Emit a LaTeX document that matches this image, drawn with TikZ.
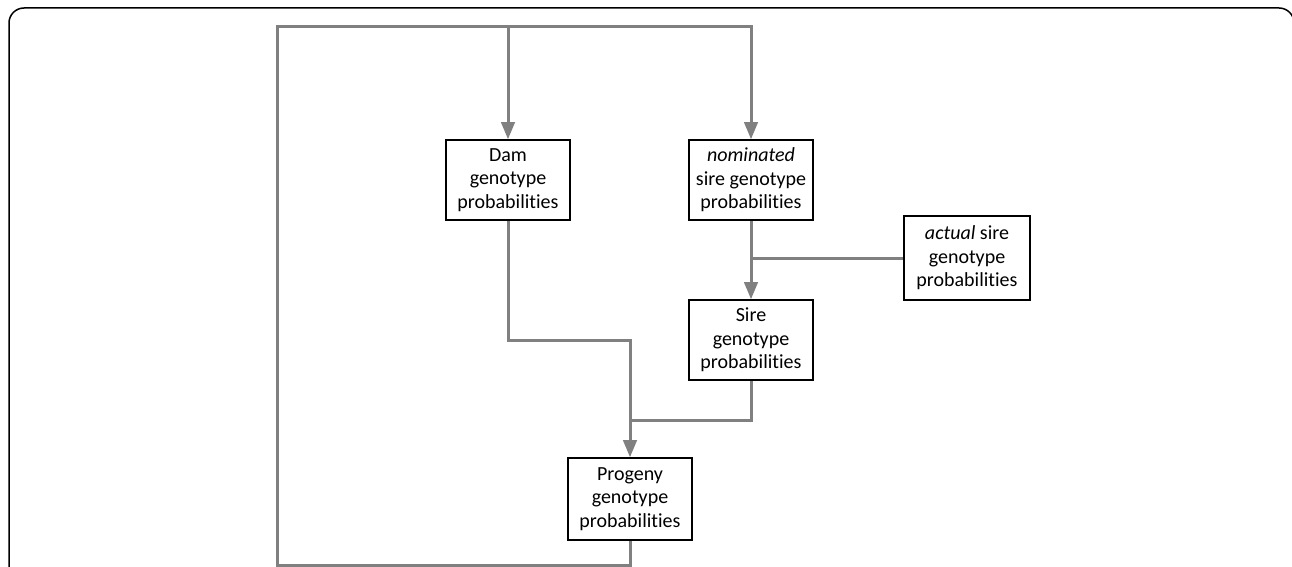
\documentclass[tikz,border=0pt]{standalone}
\usepackage{fontspec}
\setmainfont[Ligatures=NoCommon]{Carlito}
\usepackage{tikz}
\usetikzlibrary{arrows, calc, positioning}

\begin{document}
\begin{tikzpicture}[x=1pt, y=-1pt,
                        box/.style={draw, line width=2pt, minimum width=124pt, align=center, inner sep=0pt,
                                font=\fontsize{20}{23.5}\selectfont},
                        link/.style={draw=gray, line width=3pt}]
                        \useasboundingbox (0, 0) rectangle (1292, 567);
                        \draw[line width=1.5pt, rounded corners=15pt] (9, 8) rectangle (1294, 620);

                        \node[box, minimum height=80pt] (dam) at (508, 180) {Dam\\genotype\\probabilities};
                        \node[box, minimum height=80pt] (nomsire) at (751, 180) {\textit{nominated}\\sire genotype\\probabilities};
                        \node[box, minimum height=84pt, minimum width=126pt] (actsire) at (967, 258) {\textit{actual} sire\\genotype\\probabilities};
                        \node[box, minimum height=80pt] (sire) at (751, 340) {Sire\\genotype\\probabilities};
                        \node[box, minimum height=82pt] (progeny) at (630, 499) {Progeny\\genotype\\probabilities};

                        \coordinate (join) at (nomsire.south |- actsire.west);

                        \draw[link, -triangle 45] (nomsire.south) -- (sire.north);
                        \draw[link] (actsire.west) -- (join);
                        \draw[link, -triangle 45] (dam.south) -- (508, 340) -- (630, 340) -- (progeny.north);
                        \draw[link] (sire.south) |- (630, 420);
                        \draw[link, -triangle 45] (progeny.south) -- (630, 565) -| (277, 27) -| (nomsire.north);
                        \draw[link, -triangle 45] (508, 27) -- (dam.north);
                    \end{tikzpicture}
\end{document}
